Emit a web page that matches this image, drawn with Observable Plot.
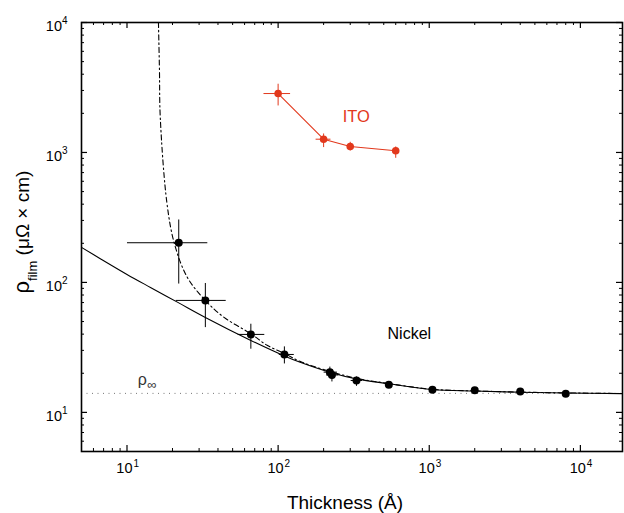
<!DOCTYPE html>
<html>
<head>
<meta charset="utf-8">
<script src="https://cdn.jsdelivr.net/npm/d3@7"></script>
<script src="https://cdn.jsdelivr.net/npm/@observablehq/plot@0.6"></script>
<style>
  html, body { margin: 0; padding: 0; background: #fff; }
  svg { font-family: "Liberation Sans", Arial, Helvetica, sans-serif; }
</style>
</head>
<body>
<div id="chart"></div>
<script>
// ---- data ----
const nickelX   = [22, 33, 66, 110, 220, 227, 330, 540, 1050, 2000, 4000, 8000];
const nickelY   = [202, 72.7, 39.8, 27.9, 20.4, 19.4, 17.6, 16.3, 14.95, 14.8, 14.5, 13.9];
const nickelXLo = [10, 21, 54, 101, 200, 208, 302, null, null, null, null, null];
const nickelXHi = [34, 45, 81, 127, 245, 250, 359, null, null, null, null, null];
const nickelYLo = [98, 45.3, 30.9, 23.8, 18.5, 17.3, 16.0, 15.6, null, null, null, null];
const nickelYHi = [305, 99, 48.1, 32.2, 22.5, 21.5, 18.9, 17.0, null, null, null, null];

const itoX   = [100, 200, 300, 600];
const itoY   = [2840, 1265, 1112, 1031];
const itoXLo = [80, 177, null, null];
const itoXHi = [120, 222, null, null];
const itoYLo = [2300, 1100, 1035, 910];
const itoYHi = [3380, 1400, 1208, 1112];

// solid model curve
const solidX = [5, 6.7, 10, 14.3, 22, 33, 66, 110, 140, 222, 330, 540, 1050, 2000, 4000, 8000, 19000];
const solidY = [186, 151.6, 115.2, 91.5, 69.6, 53.8, 35.8, 27.2, 24.3, 20.3, 18.1, 16.6, 15.0, 14.6, 14.3, 14.1, 13.95];
// dash-dot model curve
const dashX = [16.15, 16.4, 16.6, 18.4, 20.6, 25, 33, 43.6, 66, 84.6, 110.7, 140.6, 222, 330, 540, 1050, 2000, 4000, 8000, 19000];
const dashY = [10000, 4275, 1868, 403, 198.5, 110, 72.7, 54.1, 40.3, 32.8, 28.3, 24.6, 20.6, 18.3, 16.65, 15.05, 14.62, 14.32, 14.12, 13.96];

const rhoInf = 14;
const xDecades = [10, 100, 1000, 10000];
const yDecades = [10, 100, 1000, 10000];
const xExp = ["1", "2", "3", "4"];
const yExp = ["1", "2", "3", "4"];

// ---- build tables ----
const nickel = nickelX.map((x, i) => ({x, y: nickelY[i], xlo: nickelXLo[i], xhi: nickelXHi[i], ylo: nickelYLo[i], yhi: nickelYHi[i]}));
const ito = itoX.map((x, i) => ({x, y: itoY[i], xlo: itoXLo[i], xhi: itoXHi[i], ylo: itoYLo[i], yhi: itoYHi[i]}));
const solid = solidX.map((x, i) => ({x, y: solidY[i]}));
const dash = dashX.map((x, i) => ({x, y: dashY[i]}));

const W = 624, H = 513, mL = 81, mR = 2, mT = 22, mB = 62;
const innerW = W - mL - mR, innerH = H - mT - mB;
const xDomain = [5, 19000], yDomain = [5, 10000];

function minorTicks(lo, hi) {
  const out = [];
  for (let e = -1; e <= 6; e++) for (let m = 2; m <= 9; m++) {
    const v = m * Math.pow(10, e);
    if (v > lo && v < hi) out.push(v);
  }
  return out;
}
const xMinor = minorTicks(xDomain[0], xDomain[1]);
const yMinor = minorTicks(yDomain[0], yDomain[1]);

const RED = "#e2381c";
const fontFam = '"Liberation Sans", Arial, Helvetica, sans-serif';

const plot = Plot.plot({
  width: W, height: H,
  marginLeft: mL, marginRight: mR, marginTop: mT, marginBottom: mB,
  x: {type: "log", domain: xDomain, axis: null},
  y: {type: "log", domain: yDomain, axis: null},
  style: {fontFamily: fontFam, background: "#fff"},
  marks: [
    Plot.ruleY([rhoInf], {stroke: "#777", strokeWidth: 1, strokeDasharray: "1,4.5"}),
    Plot.line(solid, {x: "x", y: "y", curve: "catmull-rom", stroke: "#000", strokeWidth: 1.1, clip: true}),
    Plot.line(dash, {x: "x", y: "y", curve: "catmull-rom", stroke: "#000", strokeWidth: 1.1, strokeDasharray: "5,3,1.5,3", clip: true}),
    // nickel error bars
    Plot.link(nickel.filter(d => d.xlo != null), {x1: "xlo", x2: "xhi", y1: "y", y2: "y", stroke: "#000", strokeWidth: 1}),
    Plot.link(nickel.filter(d => d.ylo != null), {x1: "x", x2: "x", y1: "ylo", y2: "yhi", stroke: "#000", strokeWidth: 1}),
    Plot.dot(nickel, {x: "x", y: "y", r: 4, fill: "#000", stroke: "none"}),
    // ITO
    Plot.line(ito, {x: "x", y: "y", stroke: RED, strokeWidth: 1.1}),
    Plot.link(ito.filter(d => d.xlo != null), {x1: "xlo", x2: "xhi", y1: "y", y2: "y", stroke: RED, strokeWidth: 1}),
    Plot.link(ito.filter(d => d.ylo != null), {x1: "x", x2: "x", y1: "ylo", y2: "yhi", stroke: RED, strokeWidth: 1}),
    Plot.dot(ito, {x: "x", y: "y", r: 3.8, fill: RED, stroke: "none"}),
    // ticks (inward, all four sides)
    Plot.tickX(xDecades, {x: d => d, insetTop: innerH - 6, stroke: "#000", strokeWidth: 1.2}),
    Plot.tickX(xDecades, {x: d => d, insetBottom: innerH - 6, stroke: "#000", strokeWidth: 1.2}),
    Plot.tickX(xMinor, {x: d => d, insetTop: innerH - 3, stroke: "#000", strokeWidth: 1}),
    Plot.tickX(xMinor, {x: d => d, insetBottom: innerH - 3, stroke: "#000", strokeWidth: 1}),
    Plot.tickY(yDecades, {y: d => d, insetRight: innerW - 6, stroke: "#000", strokeWidth: 1.2}),
    Plot.tickY(yDecades, {y: d => d, insetLeft: innerW - 6, stroke: "#000", strokeWidth: 1.2}),
    Plot.tickY(yMinor, {y: d => d, insetRight: innerW - 3, stroke: "#000", strokeWidth: 1}),
    Plot.tickY(yMinor, {y: d => d, insetLeft: innerW - 3, stroke: "#000", strokeWidth: 1}),
    Plot.frame({stroke: "#000", strokeWidth: 1.6}),
    // tick labels: "10" + superscript exponent
    Plot.text(xDecades, {x: d => d, frameAnchor: "bottom", text: () => "10", dx: 5.5, dy: 21, textAnchor: "end", fontSize: 14.5, fill: "#000"}),
    Plot.text(xDecades, {x: d => d, frameAnchor: "bottom", text: (d, i) => xExp[i], dx: 6.5, dy: 15, textAnchor: "start", fontSize: 10, fill: "#000"}),
    Plot.text(yDecades, {y: d => d, frameAnchor: "left", text: () => "10", dx: -19.5, dy: 4, textAnchor: "end", fontSize: 14.5, fill: "#000"}),
    Plot.text(yDecades, {y: d => d, frameAnchor: "left", text: (d, i) => yExp[i], dx: -14, dy: -1.5, textAnchor: "end", fontSize: 10, fill: "#000"}),
    // annotations
    Plot.text(["ITO"], {x: 329, y: 1892, text: d => d, fontSize: 16.5, fill: RED}),
    Plot.text(["Nickel"], {x: 738, y: 40.5, text: d => d, fontSize: 16, fill: "#000"}),
    Plot.text(["ρ"], {x: 11.8, y: rhoInf, text: d => d, dy: -14, textAnchor: "start", fontSize: 16, fill: "#333"}),
    Plot.text(["∞"], {x: 11.8, y: rhoInf, text: d => d, dx: 9.5, dy: -9, textAnchor: "start", fontSize: 13, fill: "#333"})
  ]
});

const svg = d3.select(plot);
// x-axis title
svg.append("text")
  .attr("x", 345).attr("y", H - 4)
  .attr("text-anchor", "middle")
  .attr("font-size", 19).attr("fill", "#000")
  .text("Thickness (Å)");
// y-axis title with subscript
const yt = svg.append("text")
  .attr("transform", `translate(29, 232) rotate(-90)`)
  .attr("text-anchor", "middle")
  .attr("font-size", 19).attr("fill", "#000");
yt.append("tspan").attr("font-size", 22).text("ρ");
yt.append("tspan").attr("font-size", 13).attr("dy", 8).text("film");
yt.append("tspan").attr("dy", -8).text(" (μΩ × cm)");

document.getElementById("chart").appendChild(plot);
</script>
</body>
</html>
